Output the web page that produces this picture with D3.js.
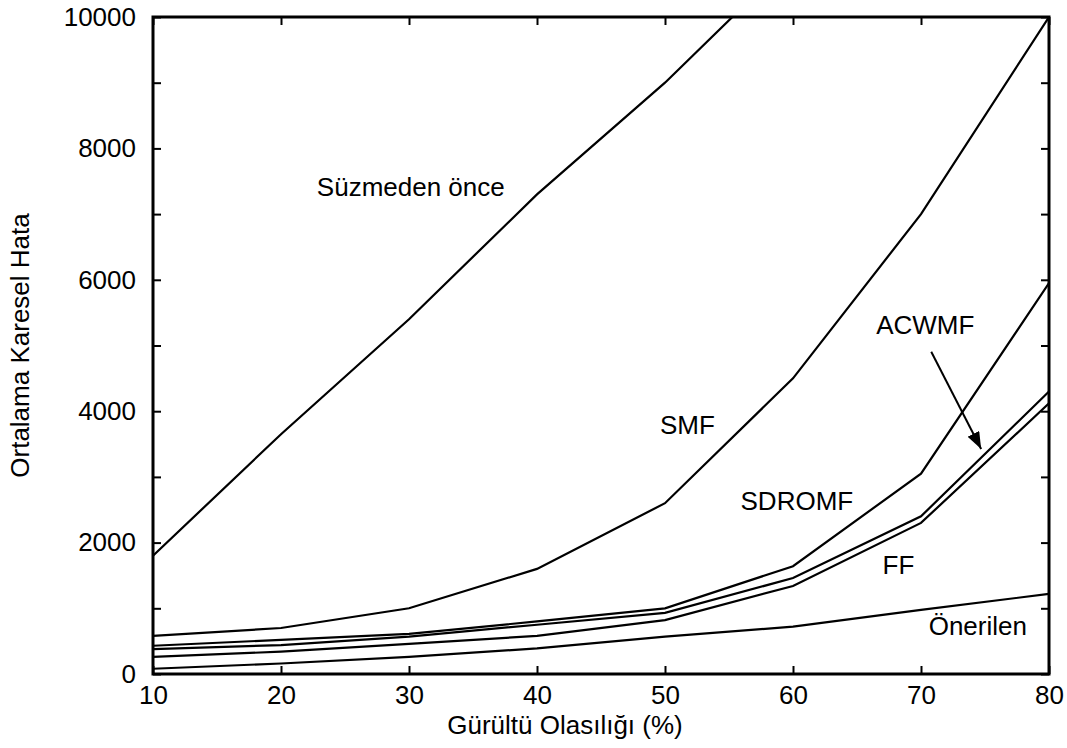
<!DOCTYPE html>
<html>
<head>
<meta charset="utf-8">
<script src="https://cdn.jsdelivr.net/npm/d3@7"></script>
<style>
  body { margin: 0; background: #fff; }
  svg text { font-family: Arial, "Liberation Sans", sans-serif; fill: #000; }
</style>
</head>
<body>
<svg id="chart" width="1067" height="748"></svg>
<script>
// noise probability (%)
const noiseLevels = [10, 20, 30, 40, 50, 60, 70, 80];

// mean squared error per method
const beforeFilter = [1800, 3650, 5400, 7300, 9000, 10900];
const smf = [580, 700, 1000, 1600, 2600, 4500, 7000, 10000];
const sdromf = [430, 520, 610, 800, 1000, 1640, 3050, 5950];
const acwmf = [380, 440, 570, 750, 930, 1460, 2400, 4300];
const ff = [260, 340, 460, 580, 820, 1340, 2300, 4120];
const proposed = [80, 160, 260, 390, 570, 720, 975, 1220];

const seriesNames = ["Süzmeden önce", "SMF", "SDROMF", "ACWMF", "FF", "Önerilen"];
const seriesValues = [beforeFilter, smf, sdromf, acwmf, ff, proposed];

const xTicks = [10, 20, 30, 40, 50, 60, 70, 80];
const yTicks = d3.range(0, 10001, 1000);

// label anchors in data units (start of text, baseline)
const labelX = [22.8, 49.6, 55.9, 66.5, 67.0, 70.6];
const labelY = [7275, 3650, 2490, 5170, 1520, 594];

// arrow from ACWMF label to its curve
const arrowFrom = [70.8, 4906];
const arrowTo = [74.7, 3425];

const margin = {top: 17, right: 18, bottom: 74, left: 153};
const width = 1067 - margin.left - margin.right;
const height = 748 - margin.top - margin.bottom;
const fontSize = 26;

const svg = d3.select("#chart");
const g = svg.append("g").attr("transform", `translate(${margin.left},${margin.top})`);

const x = d3.scaleLinear().domain([10, 80]).range([0, width]);
const y = d3.scaleLinear().domain([0, 10000]).range([height, 0]);

svg.append("defs").append("clipPath").attr("id", "plotClip")
    .append("rect").attr("width", width).attr("height", height);

svg.select("defs").append("marker")
    .attr("id", "arrowHead")
    .attr("markerUnits", "userSpaceOnUse")
    .attr("markerWidth", 20).attr("markerHeight", 20)
    .attr("refX", 17).attr("refY", 6.5)
    .attr("orient", "auto")
    .append("path")
    .attr("d", "M0,0 L17,6.5 L0,13 Z")
    .attr("fill", "#000");

// axes: ticks point inward on all four sides
const bottomAxis = d3.axisBottom(x).tickValues(xTicks).tickSizeInner(-8).tickSizeOuter(0).tickPadding(12);
const topAxis = d3.axisTop(x).tickValues(xTicks).tickSizeInner(-8).tickSizeOuter(0).tickFormat("");
const leftAxis = d3.axisLeft(y).tickValues(yTicks).tickSizeInner(-8).tickSizeOuter(0).tickPadding(17)
    .tickFormat(d => d % 2000 === 0 ? d : "");
const rightAxis = d3.axisRight(y).tickValues(yTicks).tickSizeInner(-8).tickSizeOuter(0).tickFormat("");

function styleAxis(sel){
    sel.select(".domain").remove();
    sel.selectAll(".tick line").attr("stroke", "#000").attr("stroke-width", 2);
    sel.selectAll(".tick text").style("font-size", fontSize + "px").attr("fill", "#000");
}

g.append("g").attr("transform", `translate(0,${height})`).call(bottomAxis).call(styleAxis);
g.append("g").call(topAxis).call(styleAxis);
g.append("g").call(leftAxis).call(styleAxis);
g.append("g").attr("transform", `translate(${width},0)`).call(rightAxis).call(styleAxis);

// series lines
const line = d3.line()
    .x((d, i) => x(noiseLevels[i]))
    .y(d => y(d));

g.append("g").attr("clip-path", "url(#plotClip)")
    .selectAll("path")
    .data(seriesValues)
    .join("path")
    .attr("d", d => line(d))
    .attr("fill", "none")
    .attr("stroke", "#000")
    .attr("stroke-width", 2.2)
    .attr("stroke-linejoin", "miter");

// frame
g.append("rect")
    .attr("width", width).attr("height", height)
    .attr("fill", "none").attr("stroke", "#000").attr("stroke-width", 3);

// in-plot labels
g.selectAll(".series-label")
    .data(seriesNames)
    .join("text")
    .attr("class", "series-label")
    .attr("x", (d, i) => x(labelX[i]))
    .attr("y", (d, i) => y(labelY[i]))
    .style("font-size", fontSize + "px")
    .text(d => d);

g.append("line")
    .attr("x1", x(arrowFrom[0])).attr("y1", y(arrowFrom[1]))
    .attr("x2", x(arrowTo[0])).attr("y2", y(arrowTo[1]))
    .attr("stroke", "#000").attr("stroke-width", 2)
    .attr("marker-end", "url(#arrowHead)");

// axis titles
svg.append("text")
    .attr("x", 565).attr("y", 734)
    .attr("text-anchor", "middle")
    .style("font-size", fontSize + "px")
    .text("Gürültü Olasılığı (%)");

svg.append("text")
    .attr("transform", `translate(29,${margin.top + height / 2}) rotate(-90)`)
    .attr("text-anchor", "middle")
    .style("font-size", fontSize + "px")
    .text("Ortalama Karesel Hata");
</script>
</body>
</html>
